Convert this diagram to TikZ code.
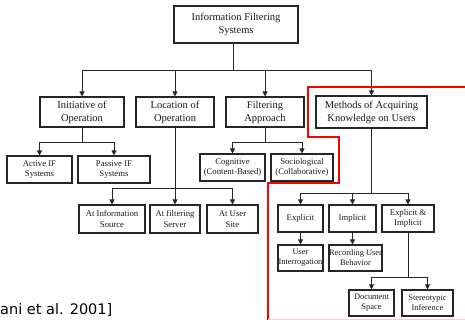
\documentclass[tikz,border=0pt]{standalone}
\usepackage{fontspec}
\setmainfont{Liberation Serif}
\newfontfamily\citefont{DejaVu Sans}
\usetikzlibrary{arrows.meta}
\newcommand\myfs[2]{\fontsize{#1}{#2}\selectfont}
\definecolor{frame}{RGB}{255,0,0}
\begin{document}
\begin{tikzpicture}[x=1pt,y=-1pt,
  box/.style={draw=black!85, line width=1.1pt, inner sep=0pt, align=center, text=black!90},
  ln/.style={draw=black!85, line width=0.9pt},
  arr/.style={ln, -{Triangle[length=5pt,width=5pt]}},
  big/.style={font=\myfs{10.5}{13}},
  mid/.style={font=\myfs{8.7}{10.5}},
  sml/.style={font=\myfs{8.4}{10}}]
\useasboundingbox (0,0) rectangle (465,320);

% level 1
\node[box,big,minimum width=124pt,minimum height=37pt] (root) at (236,24.5) {Information Filtering\\Systems};
% level 2
\node[box,big,minimum width=84pt,minimum height=30pt] (init) at (82,112) {Initiative of\\Operation};
\node[box,big,minimum width=78pt,minimum height=30pt] (loc) at (175,112) {Location of\\Operation};
\node[box,big,minimum width=78pt,minimum height=30pt] (filt) at (265,112) {Filtering\\Approach};
\node[box,big,minimum width=111pt,minimum height=32pt] (meth) at (371.5,112) {Methods of Acquiring\\Knowledge on Users};
% level 3
\node[box,mid,minimum width=65pt,minimum height=27pt] (active) at (39.5,169.5) {Active IF\\Systems};
\node[box,mid,minimum width=72pt,minimum height=27pt] (passive) at (114,169.5) {Passive IF\\Systems};
\node[box,mid,minimum width=65pt,minimum height=27pt] (cog) at (232.5,167.5) {Cognitive\\(Content-Based)};
\node[box,mid,minimum width=62pt,minimum height=27pt] (soc) at (302,167.5) {Sociological\\(Collaborative)};
\node[box,mid,minimum width=66pt,minimum height=28pt] (src) at (112,219) {At Information\\Source};
\node[box,mid,minimum width=50pt,minimum height=28pt] (srv) at (175,219) {At filtering\\Server};
\node[box,mid,minimum width=51pt,minimum height=28pt] (site) at (232.5,219) {At User\\Site};
\node[box,mid,minimum width=45pt,minimum height=27pt] (expl) at (300.5,218.5) {Explicit};
\node[box,mid,minimum width=47pt,minimum height=27pt] (impl) at (352.5,218.5) {Implicit};
\node[box,mid,minimum width=52pt,minimum height=27pt] (ei) at (408,218.5) {Explicit \&\\Implicit};
% level 4
\node[box,sml,minimum width=45pt,minimum height=26pt] (uint) at (300.5,258) {User\\Interrogation};
\node[box,sml,minimum width=53pt,minimum height=26pt] (rec) at (355.5,258) {Recording User\\Behavior};
\node[box,sml,minimum width=45pt,minimum height=26pt] (doc) at (371.5,303) {Document\\Space};
\node[box,sml,minimum width=51pt,minimum height=26pt] (ster) at (427.5,303) {Stereotypic\\Inference};

% junction coordinates
\coordinate (j0) at (233,70);
\coordinate (ji) at (0,142);
\coordinate (jf) at (0,142);
\coordinate (jl) at (0,188);
\coordinate (jm) at (0,193);
\coordinate (je) at (0,277);

% root
\draw[ln] (root.south -| j0) -- (j0);
\draw[ln] (init.north |- j0) -- (meth.north |- j0);
\foreach \n in {init,loc,filt,meth} \draw[arr] (\n.north |- j0) -- (\n.north);
% initiative
\draw[ln] (init.south) -- (init.south |- ji);
\draw[ln] (active.north |- ji) -- (passive.north |- ji);
\foreach \n in {active,passive} \draw[arr] (\n.north |- ji) -- (\n.north);
% filtering
\draw[ln] (filt.south) -- (filt.south |- jf);
\draw[ln] (cog.north |- jf) -- (soc.north |- jf);
\foreach \n in {cog,soc} \draw[arr] (\n.north |- jf) -- (\n.north);
% location
\draw[arr] (loc.south) -- (srv.north);
\draw[ln] (src.north |- jl) -- (site.north |- jl);
\foreach \n in {src,site} \draw[arr] (\n.north |- jl) -- (\n.north);
% methods
\draw[ln] (meth.south) -- (meth.south |- jm);
\draw[ln] (expl.north |- jm) -- (ei.north |- jm);
\foreach \n in {expl,impl,ei} \draw[arr] (\n.north |- jm) -- (\n.north);
\draw[arr] (expl.south) -- (uint.north);
\draw[arr] (impl.south) -- (impl.south |- rec.north);
\draw[ln] (ei.south) -- (ei.south |- je);
\draw[ln] (doc.north |- je) -- (ster.north |- je);
\foreach \n in {doc,ster} \draw[arr] (\n.north |- je) -- (\n.north);

% red highlight
\draw[frame, line width=2.2pt] (466,87) -- (308,87) -- (308,137) -- (339,137) -- (339,183) -- (268,183) -- (268,321);
\draw[frame!20, line width=1.2pt] (268,319.5) -- (466,319.5);

% citation
\node[font=\citefont\myfs{14.5}{17}, anchor=base west, inner sep=0pt] (cite) at (0,314) {ani et al. 2001]};
\end{tikzpicture}
\end{document}
